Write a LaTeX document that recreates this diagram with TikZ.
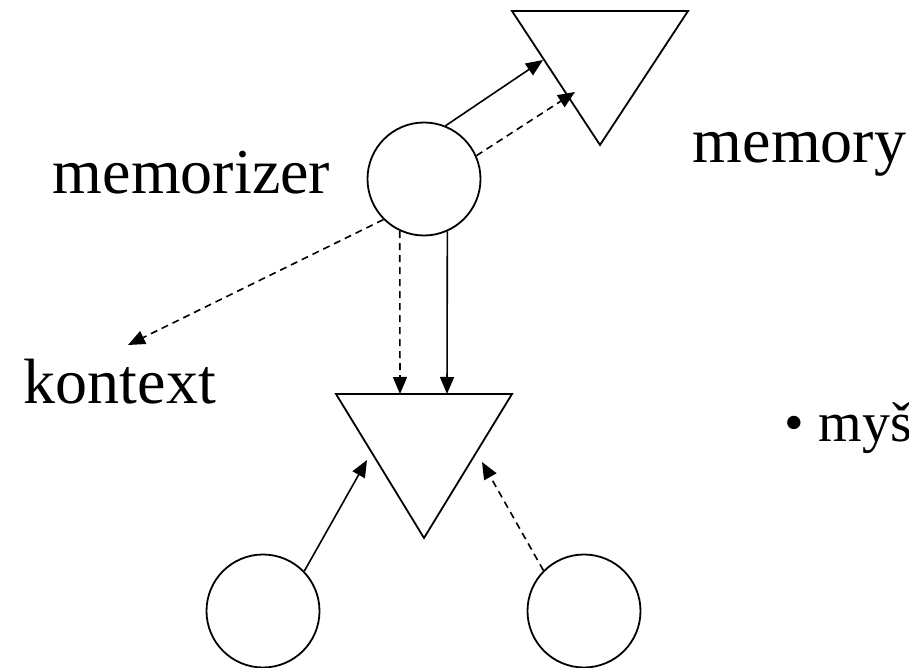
\documentclass[tikz,border=0pt]{standalone}
\usepackage{fontspec}
\setmainfont{Liberation Serif}
\usetikzlibrary{arrows.meta}

\begin{document}
\begin{tikzpicture}[x=1pt, y=-1pt, line width=1.8pt,
        unit/.style={draw, circle, minimum size=113pt, inner sep=0pt},
        word/.style={anchor=base west, inner sep=0pt, font=\fontsize{64}{64}\selectfont},
        link/.style={-{Triangle[length=17pt, width=14pt]}, line width=1.6pt},
        hint/.style={link, dash pattern=on 7pt off 5pt}]
            \useasboundingbox (0, 0) rectangle (909, 668);
            \node[unit] (m) at (424, 179) {};
            \node[unit] (l) at (263, 611) {};
            \node[unit] (r) at (584, 611) {};
            \coordinate (t1) at (512, 11);
            \coordinate (t2) at (688, 11);
            \coordinate (t3) at (600, 145);
            \draw (t1) -- (t2) -- (t3) -- cycle;
            \coordinate (b1) at (336, 394);
            \coordinate (b2) at (512, 394);
            \coordinate (b3) at (424, 538);
            \draw (b1) -- (b2) -- (b3) -- cycle;
            \node[word] (memorizer) at (52, 194) {memorizer};
            \node[word] (memory) at (692, 163) {memory};
            \node[word] (kontext) at (23, 403) {kontext};
            \node[word, font=\fontsize{56}{56}\selectfont] (mys) at (784, 441) {\textbullet\ myš};
            \coordinate (ts) at (543, 60);
            \coordinate (td) at (575, 92);
            \coordinate (kd) at (128, 345);
            \coordinate (bd) at (400, 394);
            \coordinate (bs) at (447, 394);
            \coordinate (ls) at (367, 460);
            \coordinate (rd) at (482, 462);
            \draw[link] (m.68) -- (ts);
            \draw[hint] (m.24) -- (td);
            \draw[hint] (m.225) -- (kd);
            \draw[hint] (m.245) -- (bd);
            \draw[link] (m.294) -- (bs);
            \draw[link] (l.44) -- (ls);
            \draw[hint] (r.135) -- (rd);
        \end{tikzpicture}
\end{document}
